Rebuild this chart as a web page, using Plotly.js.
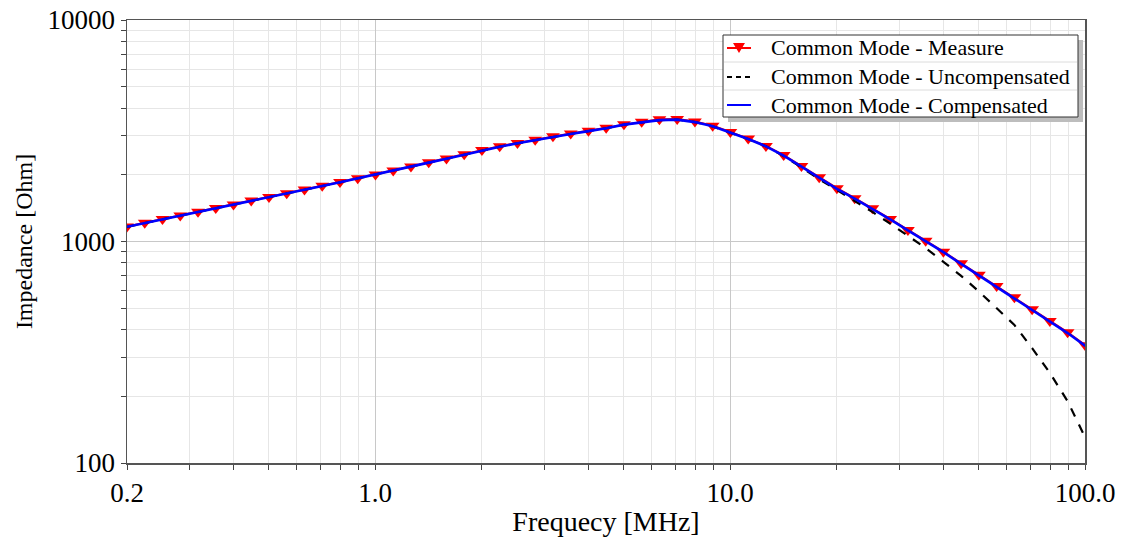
<!DOCTYPE html>
<html>
<head>
<meta charset="utf-8">
<script src="https://cdn.plot.ly/plotly-3.0.1.min.js"></script>
<style>html,body{margin:0;padding:0;background:#fff;}#chart{width:1128px;height:539px;}</style>
</head>
<body>
<div id="chart"></div>
<script>
const freqMHz = [0.2,0.2244,0.2518,0.2825,0.317,0.3557,0.3991,0.4477,0.5024,0.5637,
  0.6325,0.7096,0.7962,0.8934,1.0024,1.1247,1.2619,1.4159,1.5887,1.7825,
  2.0,2.244,2.518,2.825,3.17,3.557,3.991,4.477,5.024,5.637,
  6.325,7.096,7.962,8.934,10.02,11.25,12.62,14.16,15.89,17.83,
  20.0,22.44,25.18,28.25,31.7,35.57,39.91,44.77,50.24,56.37,
  63.25,70.96,79.62,89.34,100.2];
const compensated = [1165,1210,1255,1305,1355,1410,1465,1525,1585,1645,
  1710,1780,1850,1925,2000,2085,2175,2270,2365,2470,
  2580,2680,2775,2870,2970,3060,3150,3245,3370,3450,
  3530,3550,3460,3310,3110,2900,2690,2440,2180,1940,
  1730,1560,1405,1258,1122,1003,895,792,702,625,
  556,491,435,386,338];
const measure = [1170,1215,1262,1310,1362,1415,1470,1532,1590,1652,
  1716,1785,1858,1932,2008,2092,2182,2278,2372,2478,
  2590,2690,2785,2880,2985,3075,3165,3262,3385,3468,
  3560,3575,3480,3330,3125,2915,2700,2455,2190,1950,
  1740,1568,1412,1265,1128,1008,900,797,707,629,
  560,495,438,389,340];
const uncompensated = [1165,1210,1255,1305,1355,1410,1465,1525,1585,1645,
  1710,1780,1850,1925,2000,2085,2175,2270,2365,2470,
  2580,2680,2775,2870,2970,3060,3150,3245,3370,3450,
  3530,3550,3460,3310,3110,2900,2690,2430,2160,1910,
  1710,1530,1360,1205,1065,935,810,700,595,500,
  420,330,255,190,130];
const seriesNames = ["Common Mode - Measure","Common Mode - Uncompensated","Common Mode - Compensated"];
const seriesColors = ["#ff0000","#000000","#0000ff"];
const xTickVals = [0.2,1,10,100];
const xTickText = ["0.2","1.0","10.0","100.0"];
const xMinorVals = [0.3,0.4,0.5,0.6,0.7,0.8,0.9,2,3,4,5,6,7,8,9,20,30,40,50,60,70,80,90];
const yTickVals = [100,1000,10000];
const yTickText = ["100","1000","10000"];
const yMinorVals = [200,300,400,500,600,700,800,900,2000,3000,4000,5000,6000,7000,8000,9000];

const FONT = "Liberation Serif, Times New Roman, serif";
const traces = [
  {x: freqMHz, y: measure, name: seriesNames[0], type: "scatter", mode: "lines+markers",
   line: {color: seriesColors[0], width: 2},
   marker: {symbol: "triangle-down", size: 12, color: seriesColors[0]}},
  {x: freqMHz, y: uncompensated, name: seriesNames[1], type: "scatter", mode: "lines",
   line: {color: seriesColors[1], width: 2.2, dash: "dash"}},
  {x: freqMHz, y: compensated, name: seriesNames[2], type: "scatter", mode: "lines",
   line: {color: seriesColors[2], width: 2.6}}
];

const L = 127, R = 1085, T = 20, B = 463;
function px(x){return (x - L)/(R - L);}
function py(y){return (B - y)/(B - T);}

// legend box (drawn by hand so the row spacing matches)
const LX0 = 723, LX1 = 1078, LY0 = 35, LY1 = 117;
const rowY = [48, 77, 105];
const shapes = [
  {type: "rect", xref: "paper", yref: "paper", x0: px(LX0 + 5), x1: px(LX1 + 5), y0: py(LY0 + 5), y1: py(LY1 + 5),
   fillcolor: "#bdbdbd", line: {width: 0}, layer: "above"},
  {type: "rect", xref: "paper", yref: "paper", x0: px(LX0), x1: px(LX1), y0: py(LY0), y1: py(LY1),
   fillcolor: "#ffffff", line: {color: "#333", width: 1}, layer: "above"},
  {type: "line", xref: "paper", yref: "paper", x0: px(LX0 + 1), x1: px(LX1 - 1), y0: py(62), y1: py(62),
   line: {color: "#dcdcdc", width: 1}, layer: "above"},
  {type: "line", xref: "paper", yref: "paper", x0: px(LX0 + 1), x1: px(LX1 - 1), y0: py(90), y1: py(90),
   line: {color: "#dcdcdc", width: 1}, layer: "above"},
  {type: "line", xref: "paper", yref: "paper", x0: px(727), x1: px(751), y0: py(rowY[0]), y1: py(rowY[0]),
   line: {color: seriesColors[0], width: 2}, layer: "above"},
  {type: "path", xref: "paper", yref: "paper",
   path: `M ${px(733)} ${py(rowY[0] - 5)} L ${px(745)} ${py(rowY[0] - 5)} L ${px(739)} ${py(rowY[0] + 5)} Z`,
   fillcolor: seriesColors[0], line: {color: seriesColors[0], width: 0}, layer: "above"},
  {type: "line", xref: "paper", yref: "paper", x0: px(727), x1: px(751), y0: py(rowY[1]), y1: py(rowY[1]),
   line: {color: seriesColors[1], width: 2, dash: "5px,4px"}, layer: "above"},
  {type: "line", xref: "paper", yref: "paper", x0: px(727), x1: px(751), y0: py(rowY[2]), y1: py(rowY[2]),
   line: {color: seriesColors[2], width: 2}, layer: "above"}
];
const annotations = seriesNames.map((n, i) => ({
  text: n, xref: "paper", yref: "paper", x: px(769), y: py(rowY[i]),
  xanchor: "left", yanchor: "middle", showarrow: false,
  font: {family: FONT, size: 22, color: "#000"}
}));

const layout = {
  width: 1128, height: 539,
  margin: {l: L, r: 1128 - R, t: T, b: 539 - B},
  paper_bgcolor: "#ffffff", plot_bgcolor: "#ffffff",
  font: {family: FONT, color: "#000"},
  showlegend: false,
  xaxis: {
    type: "log", range: [Math.log10(0.2), 2],
    tickmode: "array", tickvals: xTickVals, ticktext: xTickText,
    tickfont: {family: FONT, size: 27, color: "#000"},
    ticks: "outside", ticklen: 5, tickcolor: "#444",
    showgrid: true, gridcolor: "#c8c8c8", gridwidth: 1,
    minor: {tickmode: "array", tickvals: xMinorVals, showgrid: true, gridcolor: "#e6e6e6", ticks: "outside", ticklen: 5, tickcolor: "#444"},
    showline: true, linecolor: "#555", linewidth: 1.5, mirror: true,
    zeroline: false,
    title: {text: "Frequecy [MHz]", font: {family: FONT, size: 28, color: "#000"}, standoff: 4}
  },
  yaxis: {
    type: "log", range: [2, 4],
    tickmode: "array", tickvals: yTickVals, ticktext: yTickText,
    tickfont: {family: FONT, size: 27, color: "#000"},
    ticks: "outside", ticklen: 5, tickcolor: "#444",
    showgrid: true, gridcolor: "#c8c8c8", gridwidth: 1,
    minor: {tickmode: "array", tickvals: yMinorVals, showgrid: true, gridcolor: "#e6e6e6", ticks: "outside", ticklen: 5, tickcolor: "#444"},
    showline: true, linecolor: "#555", linewidth: 1.5, mirror: true,
    zeroline: false,
    title: {text: "Impedance [Ohm]", font: {family: FONT, size: 24, color: "#000"}, standoff: 8}
  },
  shapes: shapes,
  annotations: annotations
};

Plotly.newPlot("chart", traces, layout, {displayModeBar: false, staticPlot: true});
</script>
</body>
</html>
